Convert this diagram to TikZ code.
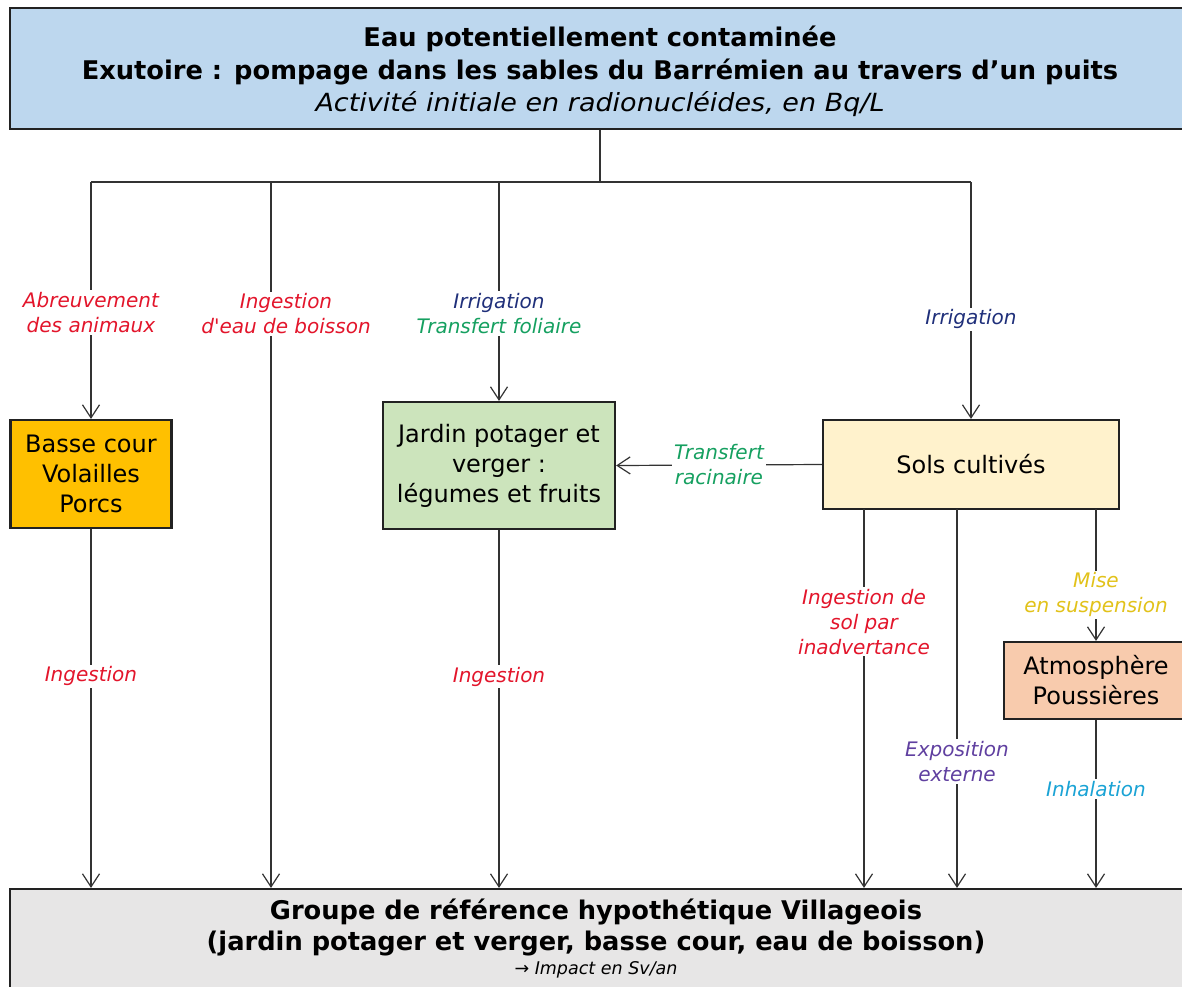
\documentclass[tikz,border=0pt]{standalone}
\usepackage{fontspec}
\setmainfont{DejaVu Sans}
\newfontfamily\widefont{DejaVu Sans}[FakeStretch=1.08]
\newfontfamily\labfont{DejaVu Sans}[Ligatures=TeXOff]
\usetikzlibrary{arrows.meta}
\definecolor{cTop}{HTML}{BDD7EE}
\definecolor{cBasse}{HTML}{FFC000}
\definecolor{cJardin}{HTML}{CCE4BC}
\definecolor{cSols}{HTML}{FFF2CC}
\definecolor{cAtmo}{HTML}{F8CBAD}
\definecolor{cBot}{HTML}{E7E6E6}
\definecolor{lRed}{HTML}{E3152B}
\definecolor{lNavy}{HTML}{1F2F7A}
\definecolor{lGreen}{HTML}{15A060}
\definecolor{lGold}{HTML}{E2C21A}
\definecolor{lPurple}{HTML}{6040A0}
\definecolor{lCyan}{HTML}{1AA3D5}
\definecolor{edge}{HTML}{222222}
\definecolor{wire}{HTML}{333333}
\tikzset{
  box/.style={draw=edge, line width=2.2pt, inner sep=0pt, align=center, font=\fontsize{24}{30}\selectfont},
  ttl/.style={font=\fontsize{25.7}{30}\selectfont\bfseries},
  wirel/.style={draw=wire, line width=1.2pt},
  arr/.style={wirel, -{Straight Barb[length=13pt,width=17pt]}},
  lab/.style={fill=white, inner sep=2pt, align=center, font=\labfont\fontsize{20}{25}\selectfont\itshape},
}
\begin{document}
\begin{tikzpicture}[x=1pt,y=-1pt]
\useasboundingbox (0,0) rectangle (1182,986);
% boxes
\node[box, fill=cTop, minimum width=1180pt, minimum height=121pt] (top) at (600,68.5) {};
\node[ttl] (t1) at (600,39) {Eau potentiellement contaminée};
\node[ttl] (t2) at (600,72) {Exutoire : pompage dans les sables du Barrémien au travers d’un puits};
\node[font=\widefont\fontsize{25}{30}\selectfont\itshape] (t3) at (600,104) {Activité initiale en radionucléides, en Bq/L};

\node[box, fill=cBasse, minimum width=161pt, minimum height=108pt] (basse) at (91,474) {Basse cour\\Volailles\\Porcs};
\node[box, fill=cJardin, minimum width=232pt, minimum height=127pt] (jardin) at (499,465.5) {Jardin potager et\\verger :\\légumes et fruits};
\node[box, fill=cSols, minimum width=296pt, minimum height=89pt] (sols) at (971,464.5) {Sols cultivés};
\node[box, fill=cAtmo, minimum width=184pt, minimum height=77pt] (atmo) at (1096,680.5) {Atmosphère\\Poussières};

\node[box, fill=cBot, minimum width=1180pt, minimum height=120pt] (bot) at (600,949) {};
\node[ttl] (b1) at (596,912) {Groupe de référence hypothétique Villageois};
\node[ttl] (b2) at (596,943) {(jardin potager et verger, basse cour, eau de boisson)};
\node[font=\fontsize{17.5}{20}\selectfont\itshape] (b3) at (596,970) {→ Impact en Sv/an};

% bus
\coordinate (bus) at (600,182);
\coordinate (j1) at (91,182);
\coordinate (j2) at (271,182);
\coordinate (j3) at (499,182);
\coordinate (j4) at (971,182);
\draw[wirel] (top.south -| bus) -- (bus);
\draw[wirel] (j1) -- (j4);

\draw[arr] (j1) -- node[lab, pos=0.55, text=lRed] {Abreuvement\\des animaux} (basse.north);
\draw[arr] (j2) -- node[lab, pos=0.187, xshift=15pt, text=lRed] {Ingestion\\d'eau de boisson} (j2 |- bot.north);
\draw[arr] (j3) -- node[lab, pos=0.6] {\textcolor{lNavy}{Irrigation}\\\textcolor{lGreen}{Transfert foliaire}} (jardin.north);
\draw[arr] (j4) -- node[lab, pos=0.58, text=lNavy] {Irrigation} (sols.north);

\draw[arr] (sols.west) -- node[lab, text=lGreen] {Transfert\\racinaire} (jardin.east);

\draw[arr] (basse.south) -- node[lab, pos=0.41, text=lRed] {Ingestion} (basse.south |- bot.north);
\draw[arr] (jardin.south) -- node[lab, pos=0.41, text=lRed] {Ingestion} (jardin.south |- bot.north);

\coordinate (s1) at (864,509);
\coordinate (s2) at (957,509);
\coordinate (s3) at (1096,509);
\draw[arr] (s1) -- node[lab, pos=0.297, text=lRed] {Ingestion de\\sol par\\inadvertance} (s1 |- bot.north);
\draw[arr] (s2) -- node[lab, pos=0.666, text=lPurple] {Exposition\\externe} (s2 |- bot.north);
\draw[arr] (s3) -- node[lab, pos=0.65, text=lGold] {Mise\\en suspension} (atmo.north);
\draw[arr] (atmo.south) -- node[lab, pos=0.41, text=lCyan] {Inhalation} (atmo.south |- bot.north);
\end{tikzpicture}
\end{document}
